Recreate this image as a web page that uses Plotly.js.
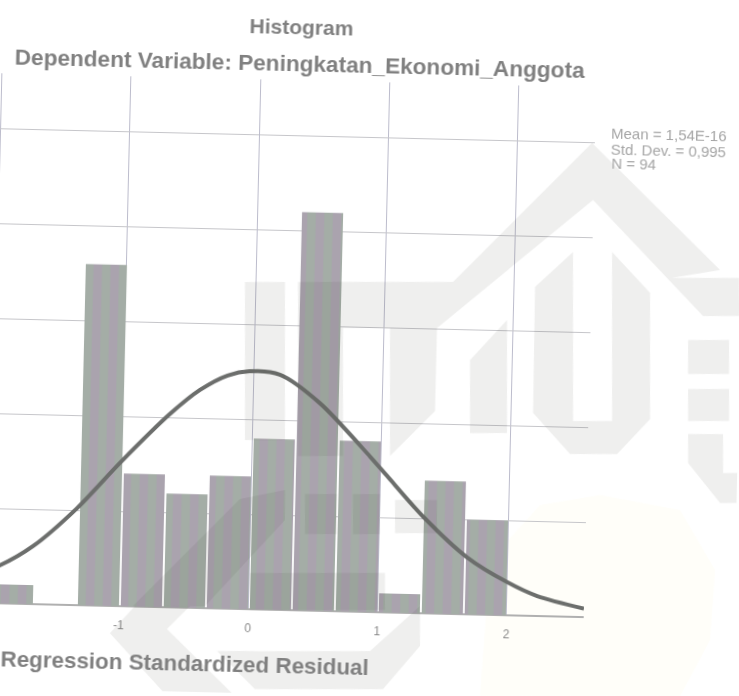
<!DOCTYPE html>
<html><head><meta charset="utf-8">
<script src="https://cdn.plot.ly/plotly-3.0.1.min.js"></script>
<style>
html,body{margin:0;padding:0;background:#fff;width:739px;height:696px;overflow:hidden}
#c{position:absolute;left:-40px;top:0;width:780px;height:696px;transform-origin:409.5px 348px;transform:rotate(1.35deg);filter:blur(0.7px)}
</style></head><body><div id="c"></div>
<script>
const binCenters=[-1.824,-1.158,-0.826,-0.493,-0.161,0.172,0.504,0.837,1.169,1.502,1.834];
const frequencies=[1,18,7,6,7,9,21,9,1,7,5];
const curveX=[-2.25,-1.927,-1.676,-1.343,-1.018,-0.639,-0.412,-0.2,-0.03,0.204,0.518,0.915,1.05,1.336,1.684,1.997,2.233,2.596];
const curveY=[1.1,2.0,3.05,5.1,7.55,10.2,11.5,12.3,12.55,12.4,10.95,8.2,7.2,5.1,3.0,1.75,1.05,0.45];
const xTicks=[-2,-1,0,1,2];
const xTickLabels=['','-1','0','1','2'];
const titleText='Histogram';
const subtitleText='Dependent Variable: Peningkatan_Ekonomi_Anggota';
const xTitle='Regression Standardized Residual';
const statsLines=['Mean = 1,54E-16','Std. Dev. = 0,995','N = 94'];
// faint scanned watermark, outlined in page pixels
const watermark=[
 [[592,143],[720,270],[672,278],[739,278],[739,316],[703,316],[593,200],[437,328],[435,411],[390,456],[390,328],[343,328],[343,282],[453,282]],
 [[245,282],[285,282],[285,440],[245,440]],
 [[298,282],[343,282],[343,456],[298,456]],
 [[535,287],[573,252],[573,421],[612,421],[612,252],[650,293],[650,419],[617,454],[570,454],[533,413]],
 [[470,360],[507,320],[507,433],[470,433]],
 [[688,340],[729,340],[729,374],[688,374]],
 [[688,389],[729,389],[729,421],[688,421]],
 [[688,434],[723,434],[723,473],[739,473],[739,503],[720,503],[688,463]],
 [[110,633],[135,606],[190,606],[167,629],[235,696],[167,696]],
 [[217,651],[370,651],[420,606],[420,646],[383,689],[255,689]],
 [[395,500],[437,500],[437,533],[395,533]],
 [[133,606],[240,499],[285,490],[285,520],[205,606]],
 [[305,494],[337,494],[337,534],[305,534]],
 [[353,494],[380,494],[380,534],[353,534]],
 [[250,573],[385,573],[385,610],[250,610]]
];
const seal=[[480,696],[490,560],[540,505],[600,495],[680,510],[715,570],[710,640],[680,696]];
const S=0.0236,CX=369.5,CY=348,L=-40,R=590,T=82,B=612;
function paper(p){
  const dx=p[0]-CX,dy=p[1]-CY;
  const x=CX+dx+dy*S,y=CY+dy-dx*S;
  return [(x-L)/(R-L),(B-y)/(B-T)];
}
function outline(pts){return 'M'+pts.map(p=>paper(p).map(v=>v.toFixed(4)).join(' ')).join(' L')+' Z';}
const shapes=watermark.map(w=>({type:'path',xref:'paper',yref:'paper',path:outline(w),fillcolor:'rgba(70,70,60,0.085)',line:{width:0},layer:'above'}));
shapes.unshift({type:'path',xref:'paper',yref:'paper',path:outline(seal),fillcolor:'#fffef9',line:{width:0},layer:'below'});
const note=(text,pos,size,color,anchor,weight)=>{const p=paper(pos);return {text,x:p[0],y:p[1],xref:'paper',yref:'paper',xanchor:anchor,yanchor:'middle',showarrow:false,align:'left',font:{family:'Liberation Sans, Arial, sans-serif',size,color,weight}};};
const annotations=[
 note(titleText,[302,27],21,'#808080','center',700),
 note(subtitleText,[300,64],22.6,'#808080','center',700),
 note(xTitle,[-1,659],22.4,'#808080','left',700),
 note(statsLines[0],[609,133],15,'#a6a6a6','left',400),
 note(statsLines[1],[609,149],15,'#a6a6a6','left',400),
 note(statsLines[2],[609,163],15,'#a6a6a6','left',400)
];
Plotly.newPlot('c',[
 {type:'bar',x:binCenters,y:frequencies,width:0.318,
  marker:{color:'#a6a2aa',line:{width:0},pattern:{shape:'|',size:17,solidity:0.5,fgcolor:'#a4ada6',bgcolor:'#aaa3ae',fillmode:'replace'}},hoverinfo:'skip'},
 {type:'scatter',mode:'lines',x:curveX,y:curveY,line:{color:'#6c6e6c',width:4,shape:'spline',smoothing:0.8},hoverinfo:'skip'}
],{
 width:780,height:696,showlegend:false,paper_bgcolor:'rgba(0,0,0,0)',plot_bgcolor:'rgba(0,0,0,0)',
 margin:{l:0,r:150,t:82,b:84},
 xaxis:{range:[-2.2757,2.596],tickvals:xTicks,ticktext:xTickLabels,showgrid:true,gridcolor:'#bcbccc',gridwidth:1,zeroline:true,zerolinecolor:'#bcbccc',zerolinewidth:1,ticks:'outside',ticklen:8,tickcolor:'rgba(0,0,0,0)',tickfont:{family:'Liberation Sans, Arial, sans-serif',size:12,color:'#8a8a8a'},showline:false},
 yaxis:{range:[0,27.95],dtick:5,showticklabels:false,showgrid:true,gridcolor:'#c6c6ca',gridwidth:1,zeroline:true,zerolinecolor:'#b0b0b0',zerolinewidth:1.5,showline:false,ticks:''},
 shapes,annotations
},{displayModeBar:false,staticPlot:true});
</script></body></html>
